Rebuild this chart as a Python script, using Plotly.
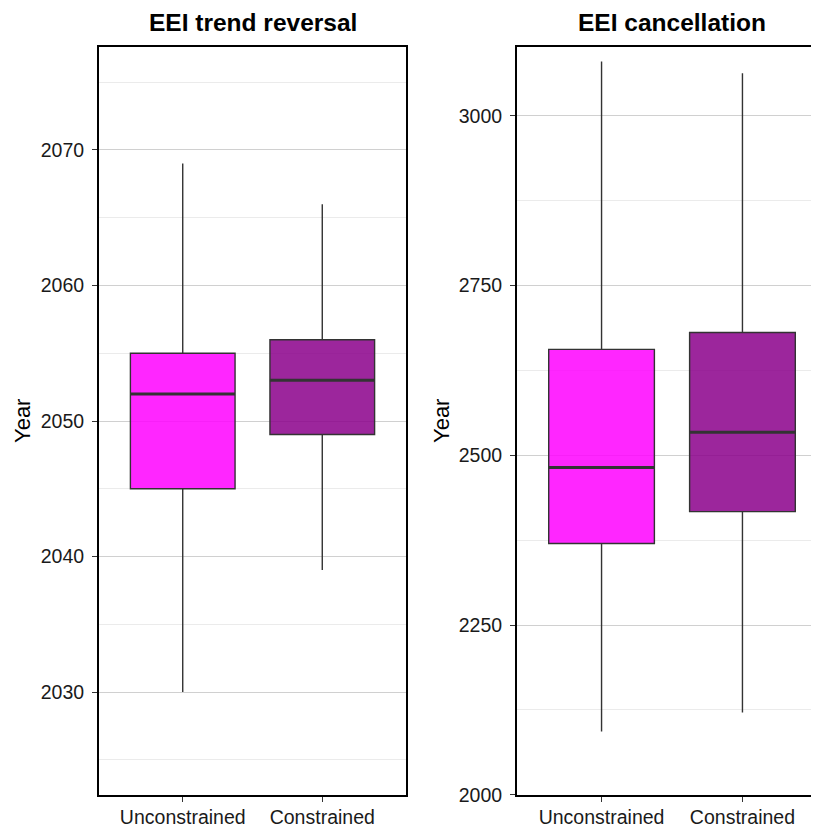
import plotly.graph_objects as go

categories = ["Unconstrained", "Constrained"]
colors = ["rgba(255,0,255,0.85)", "rgba(139,0,139,0.85)"]

# EEI trend reversal (years)
rev_low = [2030, 2039]
rev_q1 = [2045, 2049]
rev_med = [2052, 2053]
rev_q3 = [2055, 2056]
rev_high = [2069, 2066]

# EEI cancellation (years)
can_low = [2093, 2121]
can_q1 = [2370, 2417]
can_med = [2482, 2534]
can_q3 = [2656, 2681]
can_high = [3080, 3063]

# page is offset by the 8px body margin
OFF = 8
W, H = 819 - OFF, 827 - OFF
FONT = "Liberation Sans, Arial, sans-serif"
BOXW = 0.75

L1, R1 = 99 - OFF, 406 - OFF
L2, R2 = 517 - OFF, 827 - OFF
TOP, BOT = 47 - OFF, 795 - OFF

fig = go.Figure()


def add_panel(xa, ya, low, q1, med, q3, high):
    for i, cat in enumerate(categories):
        pos = i + 1
        fig.add_trace(go.Box(
            x=[pos], lowerfence=[low[i]], q1=[q1[i]], median=[med[i]],
            q3=[q3[i]], upperfence=[high[i]], width=BOXW, whiskerwidth=0,
            fillcolor=colors[i], line=dict(color="#333333", width=1.4),
            xaxis=xa, yaxis=ya, showlegend=False, hoverinfo="skip",
            boxpoints=False))
        fig.add_trace(go.Scatter(
            x=[pos - BOXW / 2, pos + BOXW / 2], y=[med[i], med[i]],
            mode="lines", line=dict(color="#333333", width=3),
            xaxis=xa, yaxis=ya, showlegend=False, hoverinfo="skip"))


add_panel("x", "y", rev_low, rev_q1, rev_med, rev_q3, rev_high)
add_panel("x2", "y2", can_low, can_q1, can_med, can_q3, can_high)

tickfont = dict(family=FONT, size=19.5, color="#1a1a1a")
common_x = dict(tickmode="array", tickvals=[1, 2], ticktext=categories,
                showgrid=False, zeroline=False, showline=True,
                linecolor="black", linewidth=2, ticks="outside", ticklen=5,
                tickwidth=1.3, tickcolor="#333333", tickfont=tickfont,
                ticklabelstandoff=-1)
common_y = dict(showgrid=True, gridcolor="#D0D0D0", gridwidth=1,
                zeroline=False, showline=True, linecolor="black", linewidth=2,
                ticks="outside", ticklen=5, tickwidth=1.3,
                tickcolor="#333333", tickfont=tickfont,
                ticklabelstandoff=4)

pw = (R2 - L2)  # full width of right panel (partly beyond the page)
visible = W - L2
xr2_hi = 0.4 + 2.2 * visible / pw

fig.update_layout(
    width=W, height=H,
    margin=dict(l=0, r=0, t=TOP, b=H - BOT, autoexpand=False),
    paper_bgcolor="white", plot_bgcolor="white",
    xaxis=dict(domain=[L1 / W, R1 / W], range=[0.4, 2.6], mirror=True,
               **common_x),
    xaxis2=dict(domain=[L2 / W, 1], range=[0.4, xr2_hi],
                mirror=True, anchor="y2", **common_x),
    yaxis=dict(domain=[0, 1], range=[2022.4, 2077.6], dtick=10,
               tick0=2030, mirror=True,
               minor=dict(dtick=10, tick0=2025, showgrid=True,
                          gridcolor="#EBEBEB", gridwidth=1),
               **common_y),
    yaxis2=dict(domain=[0, 1], range=[1999.6, 3101.5], dtick=250,
                tick0=2000, anchor="x2",
                minor=dict(dtick=250, tick0=2125, showgrid=True,
                           gridcolor="#EBEBEB", gridwidth=1),
                **common_y),
    annotations=[
        dict(text="<b>EEI trend reversal</b>", x=(L1 + R1) / 2 / W,
             y=1, xref="paper", yref="paper", xanchor="center",
             yanchor="middle", yshift=25, showarrow=False,
             font=dict(family=FONT, size=24.5, color="black")),
        dict(text="<b>EEI cancellation</b>", x=(L2 + R2) / 2 / W,
             y=1, xref="paper", yref="paper", xanchor="center",
             yanchor="middle", yshift=25, showarrow=False,
             font=dict(family=FONT, size=24.5, color="black")),
        dict(text="Year", x=(22 - OFF) / W, y=0.5, xref="paper",
             yref="paper", xanchor="center", yanchor="middle",
             textangle=-90, showarrow=False,
             font=dict(family=FONT, size=22, color="black")),
        dict(text="Year", x=(441 - OFF) / W, y=0.5, xref="paper",
             yref="paper", xanchor="center", yanchor="middle",
             textangle=-90, showarrow=False,
             font=dict(family=FONT, size=22, color="black")),
    ],
)

fig.write_html("out.html")
